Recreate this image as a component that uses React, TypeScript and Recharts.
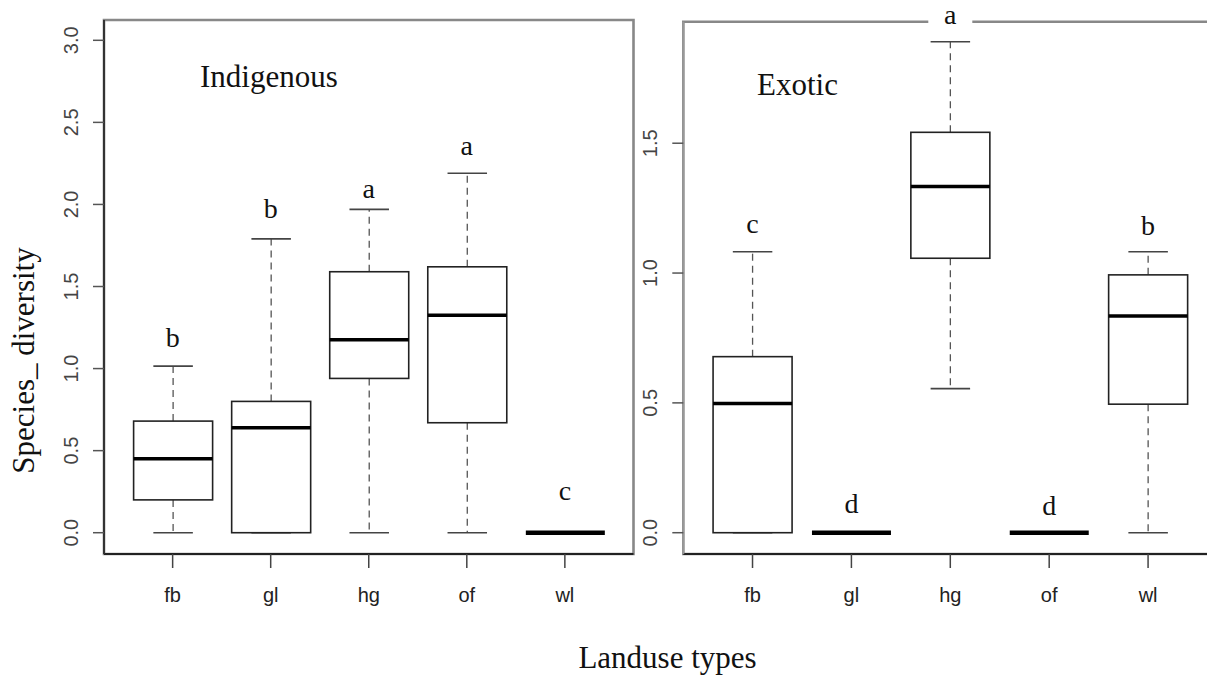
import { ComposedChart, Bar, Line, XAxis, YAxis, ReferenceArea } from 'recharts'

const landuseTypes = ['fb', 'gl', 'hg', 'of', 'wl']
const landusePositions = [1, 2, 3, 4, 5]

// Indigenous species diversity (box statistics per land use)
const indigenousMin = [0, 0, 0, 0, 0]
const indigenousQ1 = [0.2, 0, 0.94, 0.67, 0]
const indigenousMedian = [0.45, 0.64, 1.175, 1.325, 0]
const indigenousQ3 = [0.68, 0.8, 1.59, 1.62, 0]
const indigenousMax = [1.015, 1.79, 1.97, 2.19, 0]
const indigenousLetters = ['b', 'b', 'a', 'a', 'c']
const indigenousLetterAt = [1.13, 1.92, 2.04, 2.3, 0.2]

// Exotic species diversity
const exoticMin = [0, 0, 0.555, 0, 0]
const exoticQ1 = [0, 0, 1.057, 0, 0.495]
const exoticMedian = [0.498, 0, 1.333, 0, 0.835]
const exoticQ3 = [0.678, 0, 1.542, 0, 0.993]
const exoticMax = [1.082, 0, 1.891, 0, 1.082]
const exoticLetters = ['c', 'd', 'a', 'd', 'b']
const exoticLetterAt = [1.154, 0.077, 1.96, 0.068, 1.147]

const indigenousTicks = [0, 0.5, 1, 1.5, 2, 2.5, 3]
const exoticTicks = [0, 0.5, 1, 1.5]

const serif = '"Liberation Serif", "Times New Roman", serif'
const sans = '"Liberation Sans", Arial, sans-serif'

const buildRows = (
  mins: number[],
  q1s: number[],
  medians: number[],
  q3s: number[],
  maxs: number[],
  letters: string[],
  letterAt: number[]
) =>
  landuseTypes.map((name, i) => ({
    name,
    pos: landusePositions[i],
    range: [mins[i], maxs[i]],
    min: mins[i],
    q1: q1s[i],
    median: medians[i],
    q3: q3s[i],
    max: maxs[i],
    letter: letters[i],
    letterAt: letterAt[i]
  }))

const indigenousRows = buildRows(
  indigenousMin, indigenousQ1, indigenousMedian, indigenousQ3, indigenousMax,
  indigenousLetters, indigenousLetterAt
)
const exoticRows = buildRows(
  exoticMin, exoticQ1, exoticMedian, exoticQ3, exoticMax,
  exoticLetters, exoticLetterAt
)

// box + whiskers, positions interpolated from the bar's own [min, max] span
const BoxShape = (props: any) => {
  const { x, y, width, height, payload } = props
  const top = Math.min(y, y + height)
  const bottom = Math.max(y, y + height)
  const { min, q1, median, q3, max } = payload
  const cx = x + width / 2
  const cap = width * 0.25
  if (max === min) {
    return (
      <line x1={x} x2={x + width} y1={bottom} y2={bottom} stroke="#000" strokeWidth={4.5} />
    )
  }
  const py = (v: number) => bottom - ((v - min) / (max - min)) * (bottom - top)
  return (
    <g>
      <line x1={cx} x2={cx} y1={py(q3)} y2={py(max)} stroke="#555" strokeWidth={1.3} strokeDasharray="7 5" />
      <line x1={cx} x2={cx} y1={py(q1)} y2={py(min)} stroke="#555" strokeWidth={1.3} strokeDasharray="7 5" />
      <line x1={cx - cap} x2={cx + cap} y1={py(max)} y2={py(max)} stroke="#444" strokeWidth={1.6} />
      <line x1={cx - cap} x2={cx + cap} y1={py(min)} y2={py(min)} stroke="#444" strokeWidth={1.6} />
      <rect x={x} y={py(q3)} width={width} height={py(q1) - py(q3)} fill="#fff" stroke="#222" strokeWidth={1.6} />
      <line x1={x} x2={x + width} y1={py(median)} y2={py(median)} stroke="#000" strokeWidth={3.5} />
    </g>
  )
}

const LetterDot = (props: any) => {
  const { cx, cy, index, payload } = props
  return (
    <g key={`letter-${index}`}>
      <rect x={cx - 22} y={cy - 20} width={44} height={24} fill="#fff" />
      <text x={cx} y={cy} textAnchor="middle" fontSize={28} fontFamily={serif} fill="#111">
        {payload.letter}
      </text>
    </g>
  )
}

const YTick = ({ x, y, payload }: any) => (
  <text
    x={x - 13}
    y={y}
    transform={`rotate(-90, ${x - 13}, ${y})`}
    textAnchor="middle"
    fontSize={20}
    fontFamily={sans}
    fill="#444"
  >
    {payload.value.toFixed(1)}
  </text>
)

const XTick = ({ x, y, payload }: any) => (
  <text x={x} y={y + 32} textAnchor="middle" fontSize={20} fontFamily={sans} fill="#222">
    {landuseTypes[landusePositions.indexOf(payload.value)]}
  </text>
)

interface PanelProps {
  rows: any[]
  domain: [number, number]
  ticks: number[]
  width: number
  margin: { top: number; right: number; bottom: number; left: number }
  leftAxisColor: string
}

function Panel({ rows, domain, ticks, width, margin, leftAxisColor }: PanelProps) {
  return (
    <ComposedChart width={width} height={620} data={rows} margin={margin}>
      {/* plot frame: grey top/right, axes drawn over left/bottom */}
      <ReferenceArea y1={domain[0]} y2={domain[1]} fill="none" stroke="#888" strokeWidth={2.6} />
      <XAxis
        dataKey="pos"
        type="number"
        domain={[0.3, 5.7]}
        ticks={landusePositions}
        height={40}
        tickSize={14}
        tickLine={{ stroke: '#444', strokeWidth: 1.5 }}
        axisLine={{ stroke: '#222', strokeWidth: 2 }}
        tick={<XTick />}
        interval={0}
      />
      <YAxis
        type="number"
        domain={domain}
        ticks={ticks}
        width={40}
        tickSize={11}
        tickLine={{ stroke: '#555', strokeWidth: 1.5 }}
        axisLine={{ stroke: leftAxisColor, strokeWidth: 2 }}
        tick={<YTick />}
        interval={0}
      />
      <Bar dataKey="range" barSize={79} isAnimationActive={false} shape={(p: any) => <BoxShape {...p} />} />
      <Line
        dataKey="letterAt"
        stroke="none"
        dot={(p: any) => <LetterDot {...p} />}
        activeDot={false}
        isAnimationActive={false}
      />
    </ComposedChart>
  )
}

export default function App() {
  return (
    <div
      style={{
        position: 'absolute',
        left: 0,
        top: 0,
        width: 1207,
        height: 676,
        overflow: 'hidden',
        background: '#fff'
      }}
    >
      <div style={{ position: 'absolute', left: 0, top: 0 }}>
        <Panel
          rows={indigenousRows}
          domain={[-0.1297, 3.1237]}
          ticks={indigenousTicks}
          width={640}
          margin={{ top: 20, right: 6.5, bottom: 26, left: 64 }}
          leftAxisColor="#333"
        />
      </div>
      <div style={{ position: 'absolute', left: 600, top: 0 }}>
        <Panel
          rows={exoticRows}
          domain={[-0.082, 1.968]}
          ticks={exoticTicks}
          width={624}
          margin={{ top: 21.7, right: 6.7, bottom: 26, left: 43.3 }}
          leftAxisColor="#999"
        />
      </div>
      <svg
        width={1207}
        height={676}
        style={{ position: 'absolute', left: 0, top: 0, pointerEvents: 'none' }}
      >
        <text x={200} y={87} fontSize={31} fontFamily={serif} fill="#111">Indigenous</text>
        <text x={757} y={95} fontSize={31} fontFamily={serif} fill="#111">Exotic</text>
        <text x={667.5} y={668} fontSize={31} fontFamily={serif} textAnchor="middle" fill="#111">
          Landuse types
        </text>
        <text
          x={34}
          y={360.5}
          fontSize={31}
          fontFamily={serif}
          textAnchor="middle"
          fill="#111"
          transform="rotate(-90, 34, 360.5)"
        >
          Species_ diversity
        </text>
      </svg>
    </div>
  )
}
